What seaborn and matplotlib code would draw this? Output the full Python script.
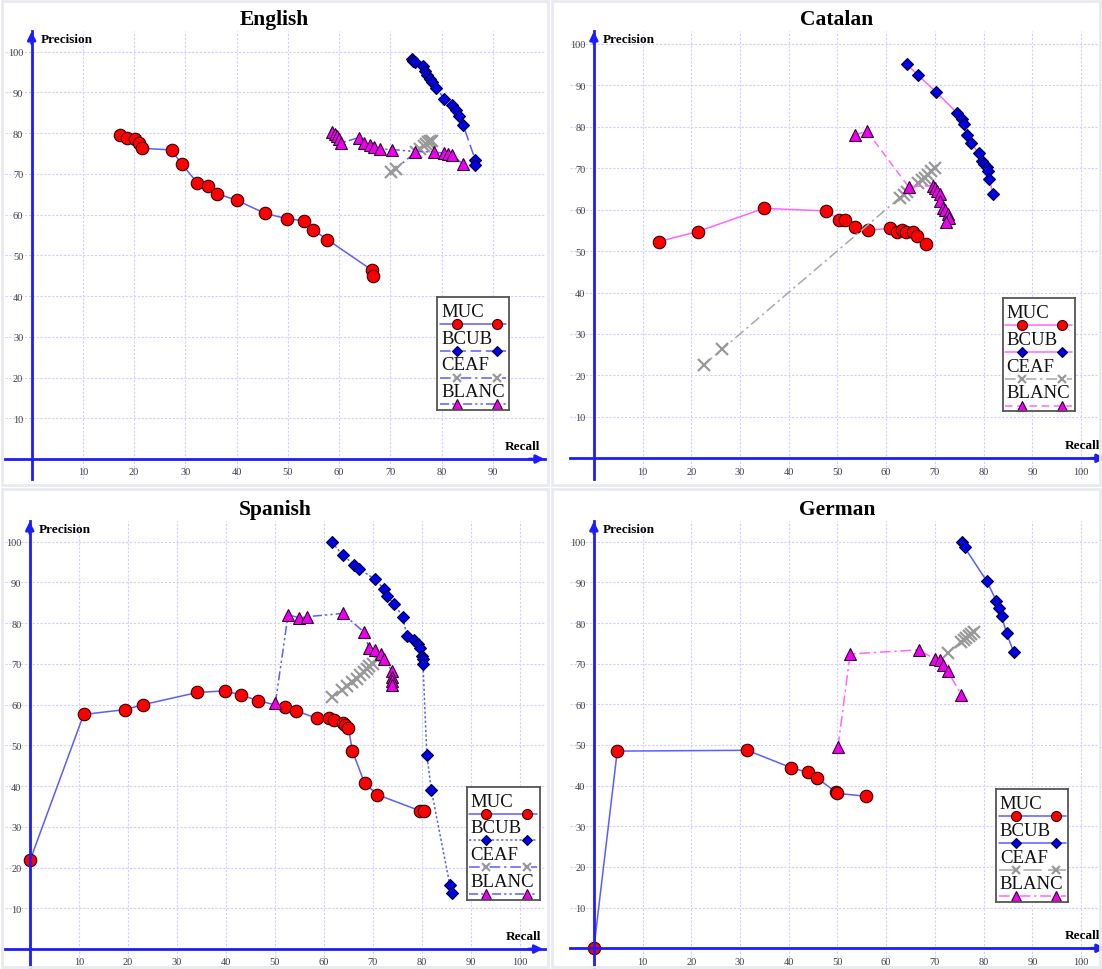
import matplotlib
matplotlib.use("Agg")
import matplotlib.pyplot as plt
from matplotlib.patches import Rectangle
import pandas as pd
import seaborn as sns

sns.set_style("white")
plt.rcParams["font.family"] = ["Liberation Serif", "DejaVu Serif"]
plt.rcParams["text.color"] = "black"

METRICS = ["MUC", "BCUB", "CEAF", "BLANC"]

# ---- English
EN_MUC_R = [17.2, 18.7, 20.1, 21.0, 21.5, 27.3, 29.3, 32.3, 34.4, 36.1, 40.1, 45.6, 49.9, 53.2, 54.9, 57.7, 66.4, 66.7]
EN_MUC_P = [79.5, 78.8, 78.5, 77.7, 76.3, 75.9, 72.4, 67.9, 67.0, 65.2, 63.5, 60.3, 59.0, 58.5, 56.3, 53.9, 46.4, 45.0]
EN_BCUB_R = [74.2, 74.5, 74.9, 76.4, 76.7, 77.1, 77.7, 78.2, 79.0, 80.5, 82.0, 82.9, 83.5, 84.2, 86.6, 86.6]
EN_BCUB_P = [98.3, 97.8, 97.4, 96.4, 95.3, 94.2, 93.2, 92.6, 91.1, 88.5, 87.0, 85.8, 84.3, 82.1, 73.4, 72.1]
EN_CEAF_R = [70.2, 71.1, 75.0, 75.8, 76.5, 77.0, 77.4, 77.8, 78.2]
EN_CEAF_P = [70.4, 71.3, 75.4, 76.2, 76.9, 77.4, 77.8, 78.2, 78.0]
EN_BLANC_R = [58.7, 59.2, 59.6, 60.0, 60.3, 63.8, 64.8, 66.1, 66.9, 67.9, 70.3, 74.9, 78.5, 80.5, 81.2, 82.1, 84.2]
EN_BLANC_P = [80.4, 79.8, 79.3, 78.7, 77.6, 78.9, 77.5, 77.1, 76.6, 76.1, 76.0, 75.5, 75.4, 75.1, 74.9, 74.6, 72.4]

# ---- Catalan
CA_MUC_R = [13.4, 21.3, 34.9, 47.6, 50.4, 51.5, 53.5, 56.3, 60.7, 62.2, 63.3, 64.1, 65.6, 66.3, 68.1]
CA_MUC_P = [52.3, 54.7, 60.3, 59.7, 57.6, 57.6, 55.7, 55.0, 55.5, 54.7, 55.0, 54.7, 54.5, 53.6, 51.8]
CA_BCUB_R = [64.2, 66.5, 70.3, 74.5, 75.6, 75.9, 76.5, 77.5, 79.0, 79.7, 80.1, 80.6, 81.0, 81.2, 81.9]
CA_BCUB_P = [95.1, 92.5, 88.3, 83.4, 81.8, 80.6, 78.1, 76.0, 73.6, 71.8, 71.1, 70.4, 69.2, 67.4, 63.7]
CA_CEAF_R = [22.6, 26.4, 62.8, 63.6, 64.3, 66.6, 67.3, 67.9, 68.6, 69.3, 70.1]
CA_CEAF_P = [22.6, 26.4, 62.9, 63.5, 64.2, 66.4, 67.2, 67.7, 68.4, 69.3, 70.0]
CA_BLANC_R = [53.7, 56.0, 64.6, 69.6, 70.1, 70.5, 71.0, 71.1, 71.7, 72.1, 72.7, 72.9, 72.2]
CA_BLANC_P = [78.0, 79.0, 65.5, 65.8, 65.1, 64.5, 63.7, 62.1, 60.5, 60.0, 58.9, 58.0, 57.1]

# ---- Spanish
ES_MUC_R = [0.1, 11.0, 19.5, 23.1, 34.2, 39.9, 43.0, 46.5, 52.0, 54.3, 58.5, 61.0, 62.0, 63.9, 64.4, 65.0, 65.8, 68.3, 70.9, 79.7, 80.4]
ES_MUC_P = [21.9, 57.6, 58.8, 60.0, 63.0, 63.4, 62.4, 61.0, 59.4, 58.5, 56.7, 56.7, 56.3, 55.6, 54.9, 54.3, 48.7, 40.7, 37.9, 33.9, 33.9]
ES_BCUB_R = [61.7, 63.8, 66.2, 67.1, 70.4, 72.2, 72.9, 74.3, 76.1, 76.9, 78.4, 79.2, 79.7, 80.0, 80.2, 80.2, 81.0, 81.9, 85.7, 86.2]
ES_BCUB_P = [99.9, 96.7, 94.4, 93.4, 90.8, 88.5, 86.6, 84.8, 81.6, 76.9, 76.0, 74.8, 73.8, 72.0, 71.1, 70.1, 47.7, 39.1, 15.7, 13.7]
ES_CEAF_R = [61.7, 63.6, 64.8, 65.8, 66.7, 67.4, 68.1, 68.7, 69.3, 70.0, 70.9]
ES_CEAF_P = [61.9, 63.5, 64.6, 65.5, 66.3, 67.3, 68.0, 68.8, 69.4, 70.1, 71.1]
ES_BLANC_R = [50.1, 52.7, 55.0, 56.5, 63.8, 68.1, 69.2, 70.4, 71.6, 72.3, 73.9, 73.9, 73.9, 73.9]
ES_BLANC_P = [60.4, 82.1, 81.3, 81.6, 82.4, 77.9, 73.9, 73.4, 72.5, 71.3, 68.2, 66.8, 65.8, 64.8]

# ---- German
DE_MUC_R = [0.0, 4.8, 31.5, 40.5, 43.9, 45.9, 49.7, 50.0, 55.8]
DE_MUC_P = [0.0, 48.5, 48.7, 44.4, 43.3, 41.8, 38.4, 38.1, 37.4]
DE_BCUB_R = [75.6, 76.1, 80.6, 82.6, 83.2, 83.7, 84.7, 86.2]
DE_BCUB_P = [100.0, 98.6, 90.4, 85.5, 83.6, 81.8, 77.5, 72.8]
DE_CEAF_R = [72.7, 75.3, 75.9, 76.4, 76.9, 77.4, 78.1]
DE_CEAF_P = [72.6, 75.4, 75.9, 76.4, 76.8, 77.3, 77.9]
DE_BLANC_R = [50.1, 52.6, 66.7, 70.0, 71.1, 71.6, 72.7, 75.4]
DE_BLANC_P = [49.5, 72.4, 73.4, 71.1, 70.8, 69.6, 68.1, 62.3]

EN_XTICKS = [10, 20, 30, 40, 50, 60, 70, 80, 90]
XTICKS = [10, 20, 30, 40, 50, 60, 70, 80, 90, 100]
YTICKS = [10, 20, 30, 40, 50, 60, 70, 80, 90, 100]

# styles
BLUE = "#5c5cff"
MAG = "#ff66ff"
GRAY = "#a8a8a8"
AXC = "#1c1cff"

SOLID = "-"
DASH = (0, (7, 3))
DOT = (0, (1.5, 1.5))
DASHDOT = (0, (7, 2.5, 1.5, 2.5))
DASHDOT2 = (0, (6, 2, 1.5, 2, 1.5, 2))

MARKERS = {
    "MUC": dict(marker="o", ms=9, mfc="#ff0000", mec="#3a0000", mew=0.8),
    "BCUB": dict(marker="D", ms=6.3, mfc="#0000e6", mec="#00003a", mew=0.8),
    "CEAF": dict(marker="x", ms=8, mfc="none", mec="#999999", mew=1.6),
    "BLANC": dict(marker="^", ms=8.5, mfc="#ee00ee", mec="#300030", mew=0.8),
}

W, H = 1102, 970

panels = [
    dict(title="English", px=(5, 32, 545, 480), xlim=(-5.2, 100.2), ylim=(-4.9, 105.1),
         xticks=EN_XTICKS, xtip=100.1, ytip=105.0, tcx=274, tcy=20, recall_x=99.3,
         legend=(79.2, 12.0, 93.2, 39.7),
         data={"MUC": (EN_MUC_R, EN_MUC_P), "BCUB": (EN_BCUB_R, EN_BCUB_P),
               "CEAF": (EN_CEAF_R, EN_CEAF_P), "BLANC": (EN_BLANC_R, EN_BLANC_P)},
         lines={"MUC": (BLUE, SOLID), "BCUB": (BLUE, DASH),
                "CEAF": (BLUE, DASHDOT), "BLANC": (BLUE, DASHDOT2)}),
    dict(title="Catalan", px=(570, 32, 1102, 480), xlim=(-4.9, 104.3), ylim=(-5.0, 103.1),
         xticks=XTICKS, xtip=105.0, ytip=103.0, tcx=837, tcy=20, recall_x=103.9,
         legend=(83.9, 11.3, 98.7, 38.6),
         data={"MUC": (CA_MUC_R, CA_MUC_P), "BCUB": (CA_BCUB_R, CA_BCUB_P),
               "CEAF": (CA_CEAF_R, CA_CEAF_P), "BLANC": (CA_BLANC_R, CA_BLANC_P)},
         lines={"MUC": (MAG, SOLID), "BCUB": (MAG, SOLID),
                "CEAF": (GRAY, DASHDOT), "BLANC": (MAG, (0, (5, 3)))}),
    dict(title="Spanish", px=(5, 522, 545, 970), xlim=(-5.05, 105.1), ylim=(-4.9, 105.1),
         xticks=XTICKS, xtip=104.7, ytip=105.0, tcx=275, tcy=510, recall_x=104.3,
         legend=(89.1, 12.1, 104.0, 39.8),
         data={"MUC": (ES_MUC_R, ES_MUC_P), "BCUB": (ES_BCUB_R, ES_BCUB_P),
               "CEAF": (ES_CEAF_R, ES_CEAF_P), "BLANC": (ES_BLANC_R, ES_BLANC_P)},
         lines={"MUC": (BLUE, SOLID), "BCUB": (BLUE, DOT),
                "CEAF": (BLUE, DASHDOT), "BLANC": (BLUE, DASHDOT2)}),
    dict(title="German", px=(570, 522, 1102, 970), xlim=(-4.9, 104.3), ylim=(-5.1, 105.1),
         xticks=XTICKS, xtip=105.0, ytip=105.0, tcx=837, tcy=510, recall_x=103.9,
         legend=(82.6, 11.3, 97.4, 39.1),
         data={"MUC": (DE_MUC_R, DE_MUC_P), "BCUB": (DE_BCUB_R, DE_BCUB_P),
               "CEAF": (DE_CEAF_R, DE_CEAF_P), "BLANC": (DE_BLANC_R, DE_BLANC_P)},
         lines={"MUC": (BLUE, SOLID), "BCUB": (BLUE, SOLID),
                "CEAF": (GRAY, (0, (12, 4))), "BLANC": (MAG, DASHDOT)}),
]

fig = plt.figure(figsize=(W / 100, H / 100), dpi=100)

# faint panel frames
for (x0, y0, x1, y1) in [(2, 2, 548, 486), (552, 2, 1100, 486), (2, 490, 548, 968), (552, 490, 1100, 968)]:
    fig.patches.append(Rectangle((x0 / W, 1 - y1 / H), (x1 - x0) / W, (y1 - y0) / H,
                                 transform=fig.transFigure, fill=False,
                                 edgecolor="#e8eaf0", lw=2, zorder=0))

for p in panels:
    x0, y0, x1, y1 = p["px"]
    ax = fig.add_axes([x0 / W, 1 - y1 / H, (x1 - x0) / W, (y1 - y0) / H])
    ax.set_facecolor("none")
    ax.set_xlim(*p["xlim"])
    ax.set_ylim(*p["ylim"])
    ax.set_xticks(p["xticks"])
    ax.set_yticks(YTICKS)
    ax.grid(True, color="#d0d0ff", ls=(0, (2, 1.5)), lw=0.8)
    ax.set_axisbelow(True)
    for side in ["top", "right"]:
        ax.spines[side].set_visible(False)
    for side in ["left", "bottom"]:
        ax.spines[side].set_position(("data", 0))
        ax.spines[side].set_color(AXC)
        ax.spines[side].set_linewidth(2)
    ax.tick_params(axis="both", direction="out", length=4, width=1, color=AXC,
                   labelsize=7.5, labelcolor="#404040", pad=2)
    # arrow heads
    ax.annotate("", xy=(p["xtip"], 0), xytext=(p["xtip"] - 3, 0), annotation_clip=False,
                arrowprops=dict(arrowstyle="-|>", color=AXC, lw=2, mutation_scale=12,
                                shrinkA=0, shrinkB=0))
    ax.annotate("", xy=(0, p["ytip"]), xytext=(0, p["ytip"] - 3), annotation_clip=False,
                arrowprops=dict(arrowstyle="-|>", color=AXC, lw=2, mutation_scale=12,
                                shrinkA=0, shrinkB=0))

    for m in METRICS:
        r, pr = p["data"][m]
        df = pd.DataFrame({"Recall": r, "Precision": pr})
        color, ls = p["lines"][m]
        sns.lineplot(data=df, x="Recall", y="Precision", ax=ax, sort=False, estimator=None,
                     color=color, linestyle=ls, lw=1.1, clip_on=False, **MARKERS[m])
    ax.set_xlabel("")
    ax.set_ylabel("")

    ax.text(1.8, p["ylim"][1] - 1.9, "Precision", fontsize=9.5, fontweight="bold",
            va="center", ha="left")
    ax.text(p["recall_x"], 3.2, "Recall", fontsize=9.5, fontweight="bold", va="center", ha="right")

    fig.text(p["tcx"] / W, 1 - p["tcy"] / H, p["title"], fontsize=15.5, fontweight="bold",
             ha="center", va="center")

    # Maple-style legend: label above a line sample with two markers
    lx0, ly0, lx1, ly1 = p["legend"]
    lax = ax.inset_axes([lx0, ly0, lx1 - lx0, ly1 - ly0], transform=ax.transData)
    lax.set_xlim(0, 1)
    lax.set_ylim(0, 1)
    lax.set_xticks([])
    lax.set_yticks([])
    lax.set_facecolor("white")
    for s in lax.spines.values():
        s.set_color("#555555")
        s.set_linewidth(1.3)
    for i, m in enumerate(METRICS):
        ty = 1 - (0.165 + i * 0.237)
        ly = 1 - (0.237 + i * 0.237)
        color, ls = p["lines"][m]
        lax.text(0.05, ty, m, fontsize=13.5, ha="left", va="baseline", color="#111111")
        lax.plot([0.04, 0.96], [ly, ly], color=color, ls=ls, lw=1.1, clip_on=False)
        mk = dict(MARKERS[m])
        mk["ms"] = mk["ms"] * 0.8
        lax.plot([0.27, 0.83], [ly, ly], ls="none", clip_on=False, **mk)

fig.savefig("out.png", dpi=100)
